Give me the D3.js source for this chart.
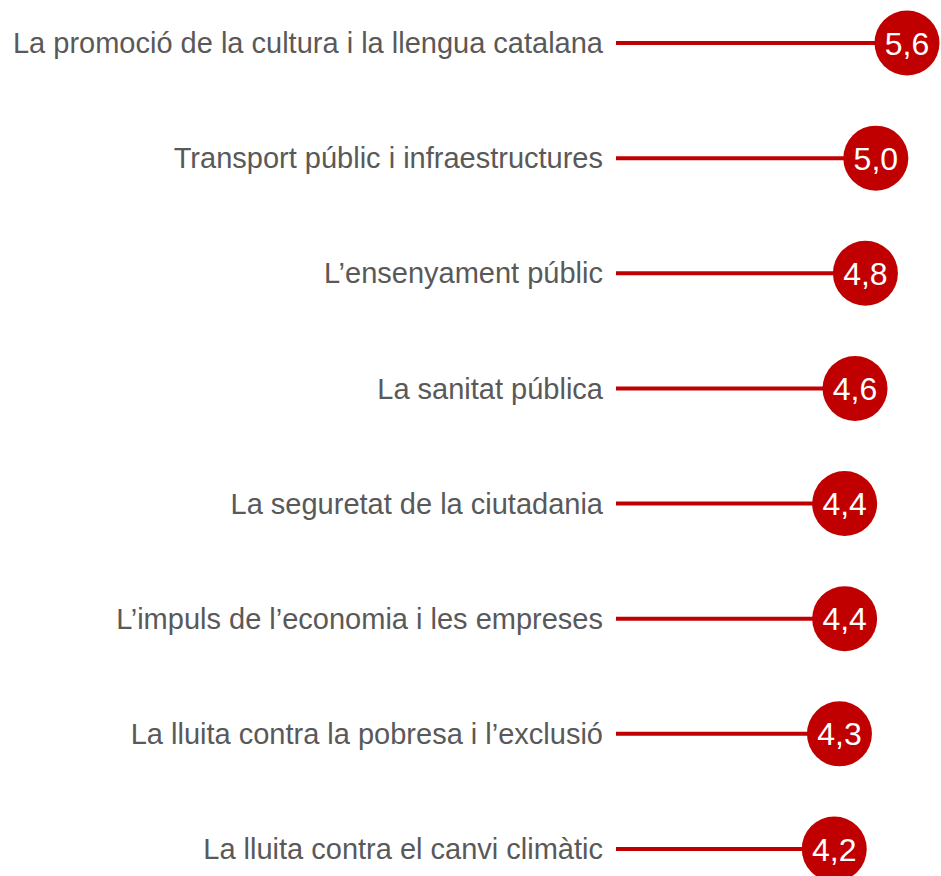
<!DOCTYPE html>
<html><head><meta charset="utf-8">
<script src="https://cdn.jsdelivr.net/npm/d3@7"></script>
<style>html,body{margin:0;padding:0;background:#fff;}svg{display:block;}</style>
</head><body>
<svg id="chart" width="941" height="876"></svg>
<script>
const categories = [
  "La promoció de la cultura i la llengua catalana",
  "Transport públic i infraestructures",
  "L’ensenyament públic",
  "La sanitat pública",
  "La seguretat de la ciutadania",
  "L’impuls de l’economia i les empreses",
  "La lluita contra la pobresa i l’exclusió",
  "La lluita contra el canvi climàtic"
];
const values = [5.6, 5.0, 4.8, 4.6, 4.4, 4.4, 4.3, 4.2];
const data = categories.map((c, i) => ({cat: c, val: values[i]}));

const svg = d3.select("#chart");
const x = d3.scaleLinear().domain([0, 5.6]).range([616, 907]);
const y = d3.scalePoint().domain(categories).range([43, 849]);
const red = "#C00000";
const fmt = v => d3.format(".1f")(v).replace(".", ",");

const g = svg.append("g");
g.selectAll("line.stem").data(data).join("line")
  .attr("class", "stem")
  .attr("x1", x(0)).attr("x2", d => x(d.val))
  .attr("y1", d => y(d.cat)).attr("y2", d => y(d.cat))
  .attr("stroke", red).attr("stroke-width", 4);

g.selectAll("text.cat").data(data).join("text")
  .attr("class", "cat")
  .attr("x", x(0) - 13).attr("y", d => y(d.cat))
  .attr("dy", "0.35em")
  .attr("text-anchor", "end")
  .attr("font-family", "Liberation Sans, Arial, sans-serif")
  .attr("font-size", 29)
  .attr("fill", "#595959")
  .text(d => d.cat);

g.selectAll("circle.dot").data(data).join("circle")
  .attr("class", "dot")
  .attr("cx", d => x(d.val)).attr("cy", d => y(d.cat))
  .attr("r", 32.5).attr("fill", red);

g.selectAll("text.val").data(data).join("text")
  .attr("class", "val")
  .attr("x", d => x(d.val)).attr("y", d => y(d.cat))
  .attr("dy", "0.36em")
  .attr("text-anchor", "middle")
  .attr("font-family", "Liberation Sans, Arial, sans-serif")
  .attr("font-size", 32)
  .attr("fill", "#fff")
  .text(d => fmt(d.val));
</script>
</body></html>
